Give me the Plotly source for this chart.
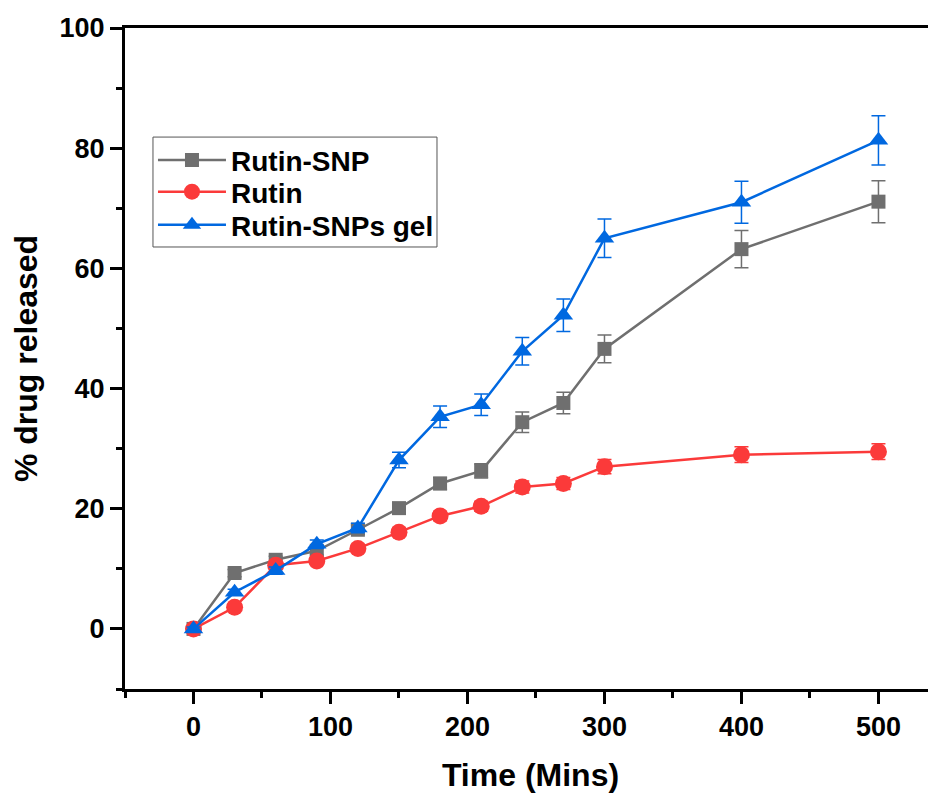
import plotly.graph_objects as go

time = [0, 30, 60, 90, 120, 150, 180, 210, 240, 270, 300, 400, 500]
snp = [0, 9.3, 11.5, 13.0, 16.5, 20.1, 24.2, 26.3, 34.4, 37.6, 46.6, 63.2, 71.1]
snp_err = [0.3, 0.6, 0.6, 0.7, 0.8, 0.9, 1.0, 1.2, 1.7, 1.8, 2.3, 3.1, 3.5]
rutin = [0, 3.6, 10.6, 11.3, 13.4, 16.1, 18.8, 20.4, 23.6, 24.2, 27.0, 29.0, 29.5]
rutin_err = [0.2, 0.5, 0.6, 0.6, 0.7, 0.7, 0.8, 0.8, 1.0, 1.0, 1.2, 1.3, 1.3]
gel = [0, 6.1, 9.7, 14.1, 16.8, 28.1, 35.3, 37.3, 46.2, 52.2, 65.0, 71.0, 81.3]
gel_err = [0.3, 0.5, 0.6, 0.7, 0.8, 1.3, 1.8, 1.8, 2.3, 2.7, 3.2, 3.5, 4.1]

x_ticks = [0, 100, 200, 300, 400, 500]
y_ticks = [0, 20, 40, 60, 80, 100]

GRAY = "#6f6f6f"
RED = "#fb3a3a"
BLUE = "#0068e0"
FONT = "Liberation Sans"

fig = go.Figure()
series = [
    ("Rutin-SNP", snp, snp_err, GRAY, "square", 14, "legend"),
    ("Rutin", rutin, rutin_err, RED, "circle", 17, "legend2"),
    ("Rutin-SNPs gel", gel, gel_err, BLUE, "triangle-up", 17, "legend3"),
]
for name, ys, errs, col, sym, sz, leg in series:
    fig.add_trace(go.Scatter(
        x=time, y=ys, name=name, mode="lines+markers", legend=leg,
        line=dict(color=col, width=2.5),
        marker=dict(color=col, symbol=sym, size=sz, line=dict(width=0)),
        error_y=dict(type="data", array=errs, visible=True, color=col,
                     thickness=1.5, width=7),
    ))

axis_common = dict(
    showline=True, linecolor="black", linewidth=3,
    ticks="outside", ticklen=12, tickwidth=3, tickcolor="black",
    showgrid=False, zeroline=False, automargin=False,
    tickfont=dict(family=FONT, size=27, color="black", weight="bold"),
)

def leg_style(yc):
    return dict(
        x=0.0345, y=yc, xanchor="left", yanchor="middle",
        borderwidth=0, bgcolor="rgba(0,0,0,0)",
        font=dict(family=FONT, size=28, color="black", weight="bold"),
        itemwidth=68,
    )

# page body has an 8px margin, so the figure is made 8px smaller
fig.update_layout(
    width=928, height=785,
    margin=dict(l=117, r=0, t=20, b=104),
    paper_bgcolor="white", plot_bgcolor="white",
    xaxis=dict(
        range=[-50, 542], tickvals=x_ticks, mirror=True,
        title=dict(text="Time (Mins)", font=dict(family=FONT, size=32, color="black", weight="bold"), standoff=24),
        minor=dict(dtick=50, tick0=0, ticks="outside", ticklen=6, tickwidth=3, tickcolor="black"),
        **axis_common,
    ),
    yaxis=dict(
        range=[-10, 100], tickvals=y_ticks, mirror=False,
        title=dict(text="% drug released", font=dict(family=FONT, size=32, color="black", weight="bold"), standoff=14),
        minor=dict(dtick=10, tick0=0, ticks="outside", ticklen=6, tickwidth=3, tickcolor="black"),
        **axis_common,
    ),
    legend=leg_style(0.800),
    legend2=leg_style(0.752),
    legend3=leg_style(0.702),
    shapes=[dict(type="rect", xref="paper", yref="paper",
                 x0=0.0345, x1=0.3847, y0=0.6687, y1=0.835,
                 line=dict(color="#555555", width=1), fillcolor="white", layer="below")],
    showlegend=True,
)

fig.write_html("out.html")
